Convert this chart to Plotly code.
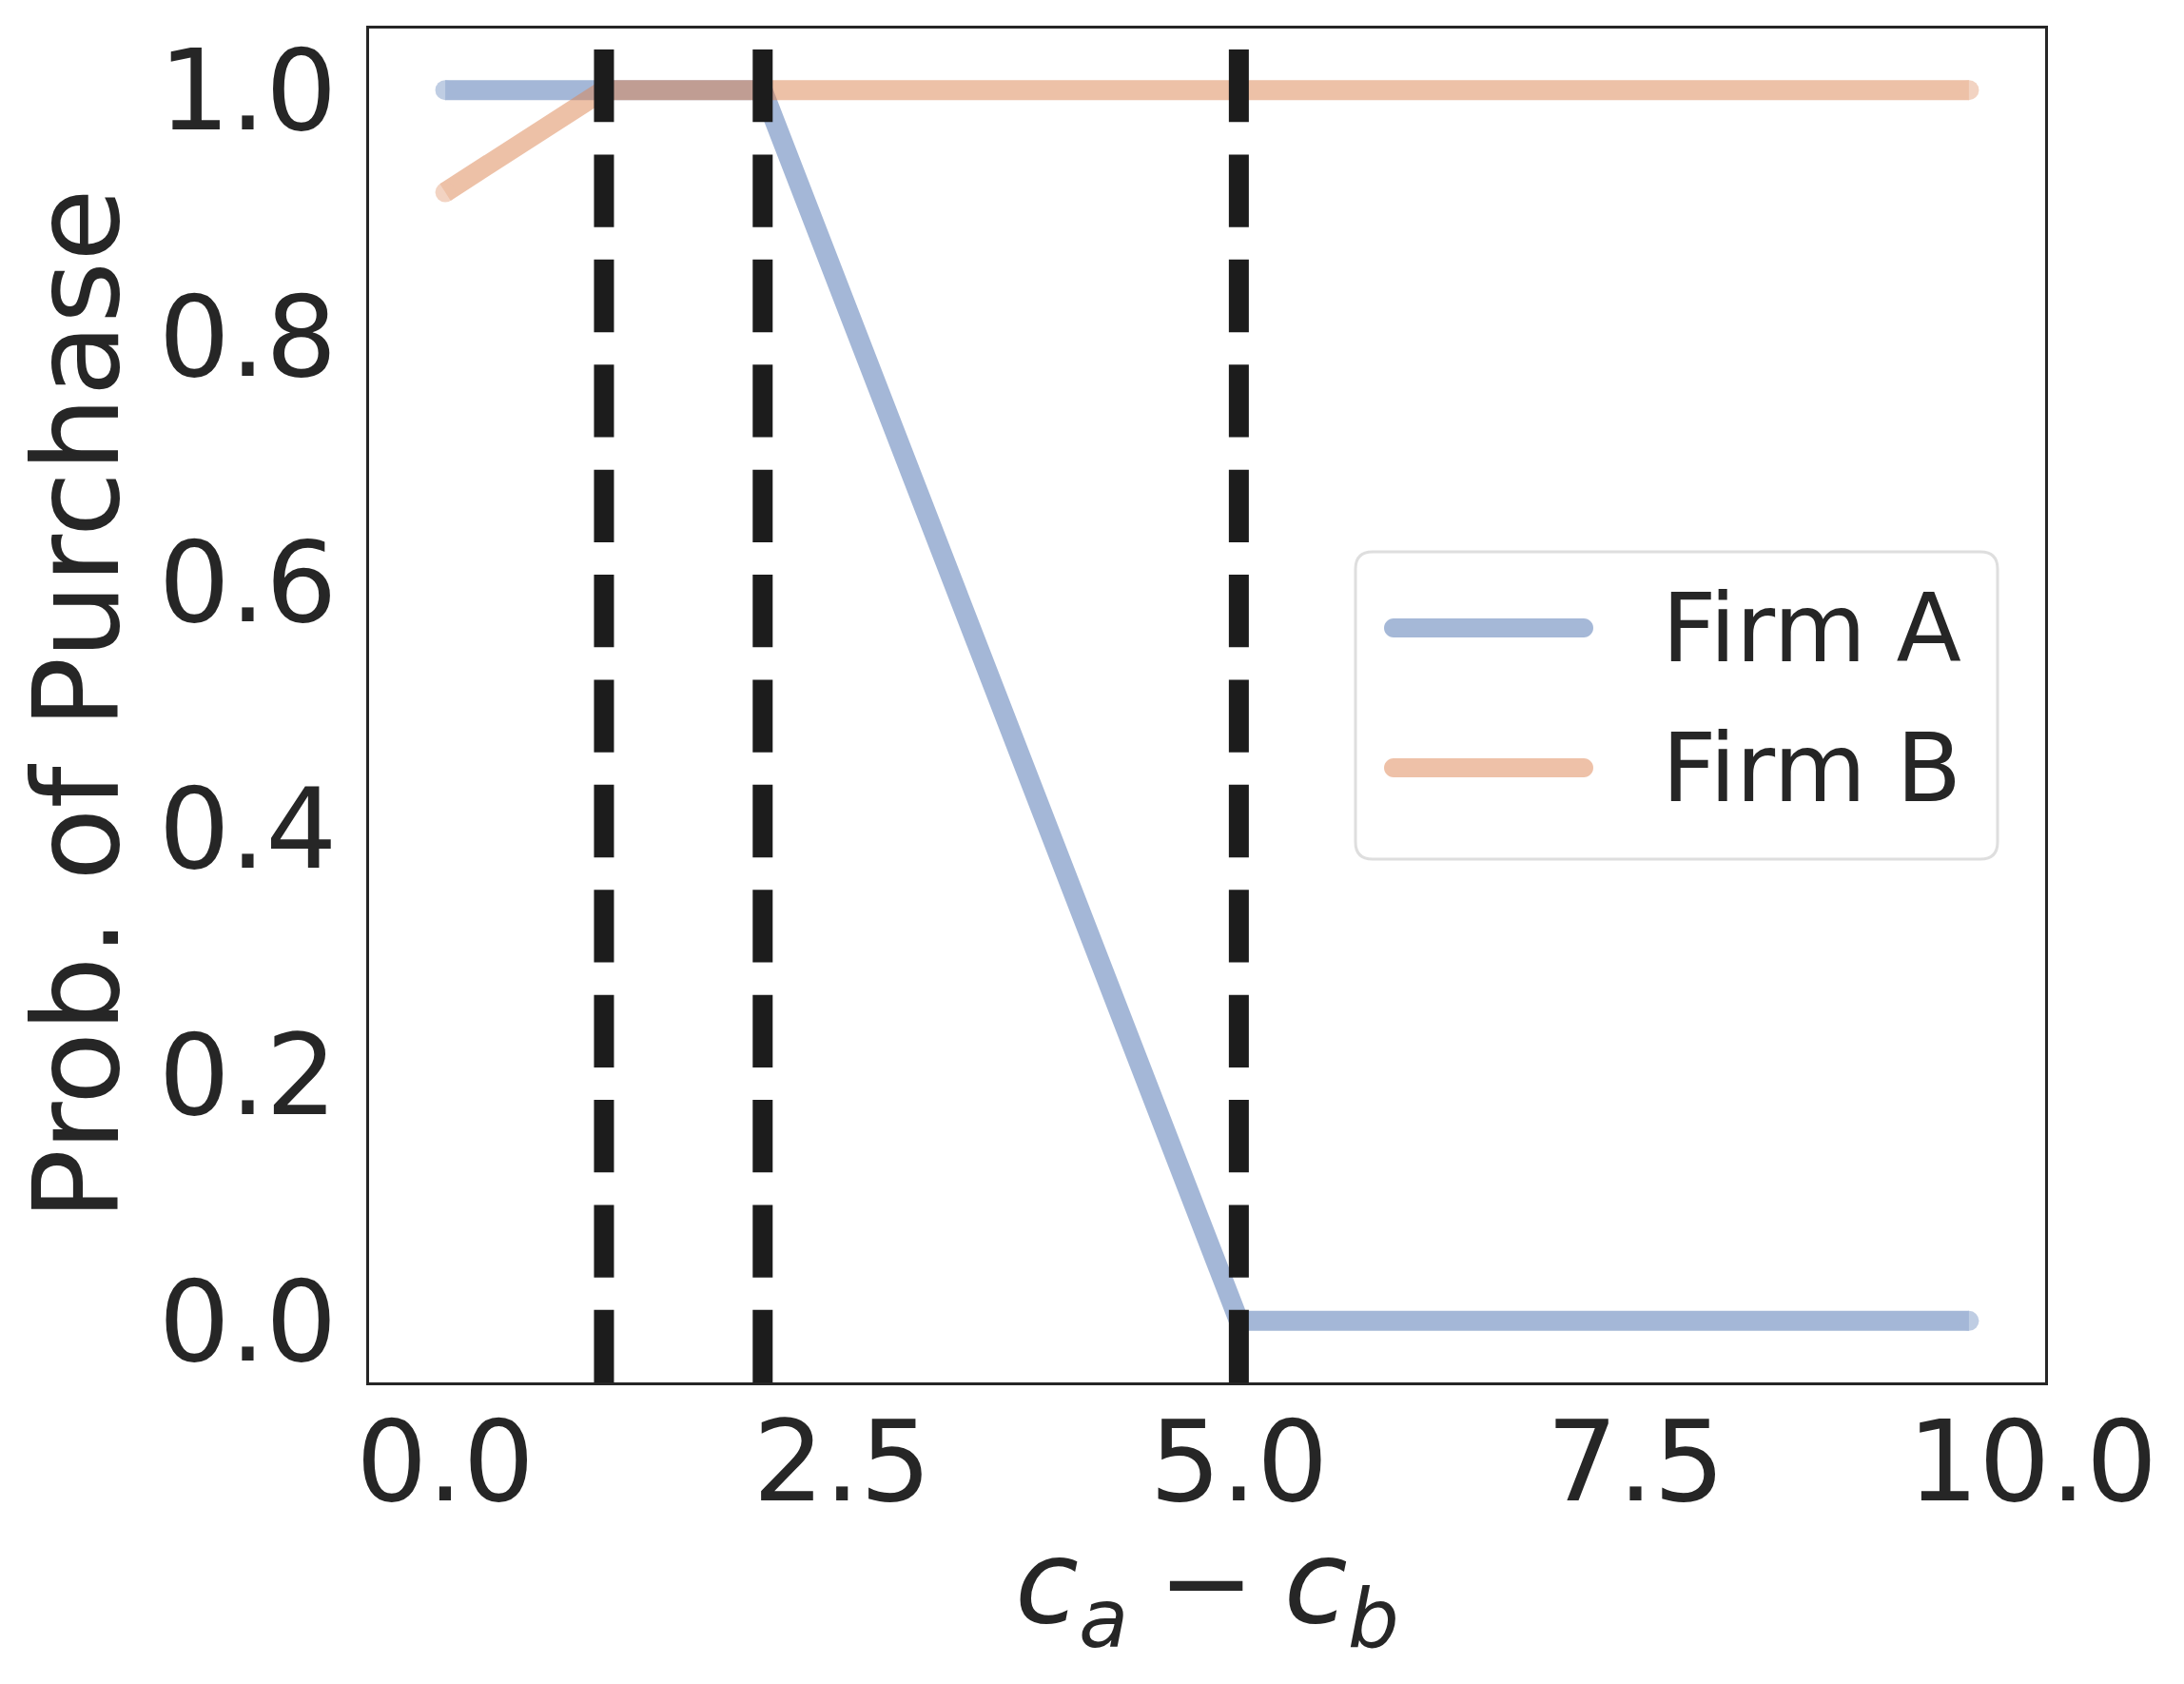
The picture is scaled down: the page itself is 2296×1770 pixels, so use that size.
import plotly.graph_objects as go

# values
firm_a_x = [0.0, 2.0, 5.0, 9.6]
firm_a_y = [1.0, 1.0, 0.0, 0.0]
firm_b_x = [0.0, 1.0, 9.6]
firm_b_y = [0.917, 1.0, 1.0]
cutoffs = [1.0, 2.0, 5.0]
x_ticks = [0.0, 2.5, 5.0, 7.5, 10.0]
y_ticks = [0.0, 0.2, 0.4, 0.6, 0.8, 1.0]

# page pixels of the axes box; the page body adds an 8px margin
OFF = 8
W, H = 2296 - 2 * OFF, 1770 - 2 * OFF
L, R, T, B = 388, 2150, 30, 1453
INK = '#262626'
FONT = 'DejaVu Sans'
BLUE, ORANGE = '#4C72B0', '#DD8452'


def px(x):
    return (x - L) / (R - L)


def py(y):
    return (B - y) / (B - T)


def capsule(x0, x1, yc, h):
    # rounded bar in paper coords, used for the legend samples
    r = h / 2
    k = 0.5523 * r
    pts = [
        f'M{px(x0 + r)},{py(yc - r)}',
        f'L{px(x1 - r)},{py(yc - r)}',
        f'C{px(x1 - r + k)},{py(yc - r)} {px(x1)},{py(yc - k)} {px(x1)},{py(yc)}',
        f'C{px(x1)},{py(yc + k)} {px(x1 - r + k)},{py(yc + r)} {px(x1 - r)},{py(yc + r)}',
        f'L{px(x0 + r)},{py(yc + r)}',
        f'C{px(x0 + r - k)},{py(yc + r)} {px(x0)},{py(yc + k)} {px(x0)},{py(yc)}',
        f'C{px(x0)},{py(yc - k)} {px(x0 + r - k)},{py(yc - r)} {px(x0 + r)},{py(yc - r)}',
        'Z',
    ]
    return ' '.join(pts)


def rounded_box(x0, y0, x1, y1, r):
    pts = [
        f'M{px(x0 + r)},{py(y0)}',
        f'L{px(x1 - r)},{py(y0)}',
        f'Q{px(x1)},{py(y0)} {px(x1)},{py(y0 + r)}',
        f'L{px(x1)},{py(y1 - r)}',
        f'Q{px(x1)},{py(y1)} {px(x1 - r)},{py(y1)}',
        f'L{px(x0 + r)},{py(y1)}',
        f'Q{px(x0)},{py(y1)} {px(x0)},{py(y1 - r)}',
        f'L{px(x0)},{py(y0 + r)}',
        f'Q{px(x0)},{py(y0)} {px(x0 + r)},{py(y0)}',
        'Z',
    ]
    return ' '.join(pts)


fig = go.Figure()
for name, xs, ys, colour in [('Firm A', firm_a_x, firm_a_y, BLUE),
                             ('Firm B', firm_b_x, firm_b_y, ORANGE)]:
    caps = [21] + [0] * (len(xs) - 2) + [21]
    fig.add_trace(go.Scatter(
        x=xs, y=ys, mode='lines+markers', name=name, opacity=0.5,
        line={'color': colour, 'width': 21},
        marker={'size': caps, 'color': colour, 'line': {'width': 0}},
        hoverinfo='skip',
    ))

for c in cutoffs:
    fig.add_shape(type='line', xref='x', yref='y domain', x0=c, x1=c, y0=0.9845, y1=0,
                  line={'color': '#1c1c1c', 'width': 21, 'dash': '76.3px,34.1px'})

# legend drawn by hand so the sample lines get matplotlib's length
fig.add_shape(type='path', xref='paper', yref='paper', path=rounded_box(1425, 580, 2100, 903, 18),
              line={'color': '#dedede', 'width': 3}, fillcolor='white', layer='above')
for (name, colour), yc in zip([('Firm A', '#a5b8d7'), ('Firm B', '#eec1a8')], [660, 807]):
    fig.add_shape(type='path', xref='paper', yref='paper', path=capsule(1455, 1675, yc, 20),
                  line={'width': 0}, fillcolor=colour, layer='above')
    fig.add_annotation(text=name, xref='paper', yref='paper', x=px(1745), y=py(yc),
                       xanchor='left', yanchor='middle', showarrow=False,
                       font={'size': 100, 'color': INK, 'family': FONT})

fig.add_annotation(text='<i>c</i><sub><i>a</i></sub>\u2005\u2212\u2005<i>c</i><sub><i>b</i></sub>',
                   xref='paper', yref='paper', x=px(1269), y=py(1672),
                   xanchor='center', yanchor='middle', showarrow=False,
                   font={'size': 122, 'color': INK, 'family': FONT})
fig.add_annotation(text='Prob. of Purchase', textangle=-90,
                   xref='paper', yref='paper', x=px(80), y=py(741),
                   xanchor='center', yanchor='middle', showarrow=False,
                   font={'size': 125, 'color': INK, 'family': FONT})

fig.update_layout(
    width=W, height=H,
    margin={'l': L - OFF, 'r': W - (R - OFF), 't': T - OFF, 'b': H - (B - OFF), 'pad': 0},
    plot_bgcolor='white', paper_bgcolor='white',
    showlegend=False,
    font={'family': FONT, 'color': INK, 'size': 118},
)
fig.update_xaxes(
    range=[-0.48, 10.08], tickvals=x_ticks, ticktext=[f'{v:.1f}' for v in x_ticks],
    showgrid=False, zeroline=False, showline=True, mirror=True,
    linecolor=INK, linewidth=3, ticks='', ticklen=0, ticklabelstandoff=-21,
)
fig.update_yaxes(
    range=[-0.05, 1.05], tickvals=y_ticks, ticktext=[f'{v:.1f}' for v in y_ticks],
    showgrid=False, zeroline=False, showline=True, mirror=True,
    linecolor=INK, linewidth=3, ticks='', ticklen=0, ticklabelstandoff=7,
)

fig.write_html('out.html')
